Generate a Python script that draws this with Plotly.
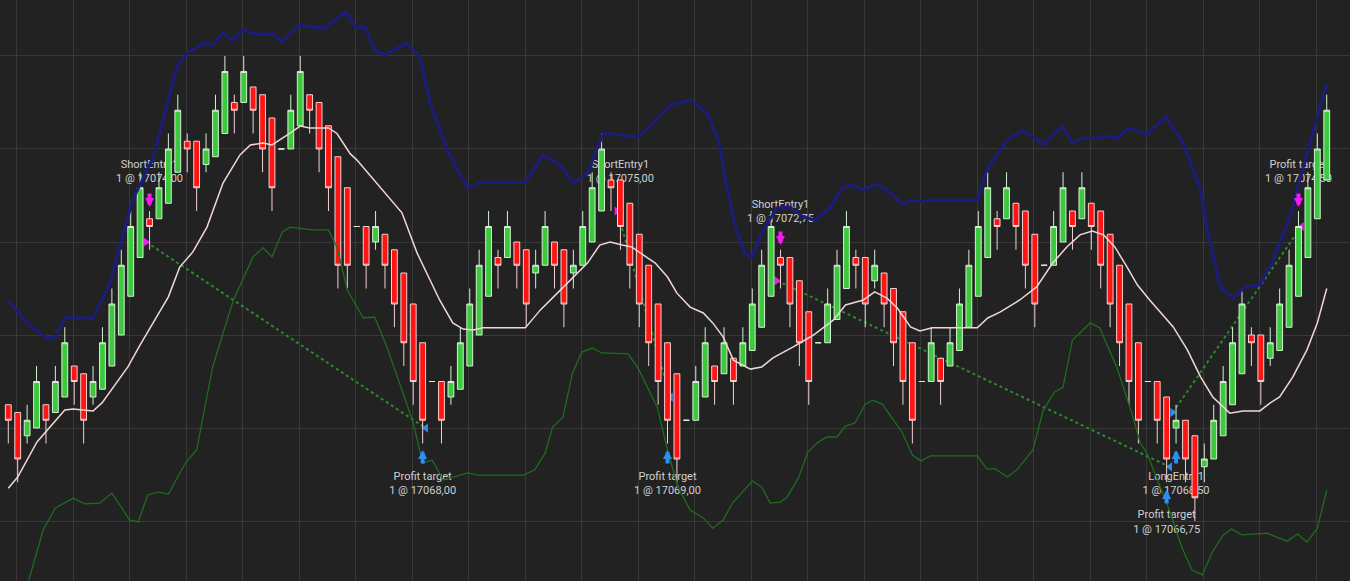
import plotly.graph_objects as go

# ---- price bars (one per bar index) ----
opens = [
    17068.75, 17068.5, 17067.75, 17068.0, 17068.75, 17068.5, 17069.0, 17070.0, 17069.75, 17069.0,
    17069.25, 17070.0, 17071.0, 17072.25, 17073.5, 17074.75, 17074.75, 17075.25, 17076.25, 17077.25,
    17077.25, 17076.5, 17076.75, 17077.5, 17078.5, 17078.5, 17079.0, 17078.75, 17078.0, 17077.0,
    17077.0, 17077.75, 17078.75, 17078.5, 17077.75, 17076.75, 17075.75, 17074.5, 17074.5, 17074.0,
    17074.25, 17073.75, 17073.0, 17072.0, 17070.75, 17069.5, 17069.5, 17069.0, 17069.25, 17070.0,
    17071.0, 17072.25, 17073.5, 17073.5, 17074.0, 17073.75, 17073.0, 17073.25, 17074.0, 17073.75,
    17073.0, 17073.25, 17074.0, 17075.0, 17076.0, 17076.0, 17075.25, 17074.25, 17073.25, 17072.0,
    17070.75, 17069.75, 17068.25, 17068.25, 17069.0, 17070.0, 17069.75, 17070.25, 17070.0, 17070.5,
    17071.25, 17072.25, 17073.5, 17073.5, 17072.75, 17071.75, 17070.75, 17070.75, 17071.5, 17072.5,
    17073.5, 17073.5, 17072.75, 17073.0, 17072.5, 17071.75, 17070.75, 17069.5, 17069.5, 17070.25,
    17070.0, 17070.5, 17071.25, 17072.25, 17073.5, 17074.75, 17074.75, 17075.25, 17075.0, 17074.25,
    17073.25, 17073.25, 17074.0, 17075.0, 17074.75, 17075.25, 17075.0, 17074.25, 17073.25, 17072.0,
    17070.75, 17069.5, 17069.5, 17069.0, 17068.0, 17068.25, 17067.75, 17066.75, 17067.0, 17067.75,
    17068.75, 17069.75, 17071.0, 17071.0, 17070.25, 17070.5, 17071.25, 17072.25, 17073.5, 17074.75,
    17076.0,
]
highs = [
    17068.75, 17068.5, 17068.75, 17070.0, 17068.75, 17070.0, 17071.25, 17070.0, 17069.75, 17070.0,
    17071.25, 17072.5, 17073.75, 17075.0, 17076.25, 17075.0, 17076.25, 17077.5, 17078.75, 17077.5,
    17077.25, 17077.5, 17078.75, 17080.0, 17078.75, 17080.0, 17079.0, 17078.75, 17078.0, 17077.0,
    17078.75, 17080.0, 17078.75, 17078.5, 17077.75, 17076.75, 17075.75, 17074.5, 17074.5, 17075.0,
    17074.25, 17073.75, 17073.0, 17072.0, 17070.75, 17069.5, 17069.5, 17070.0, 17071.25, 17072.5,
    17073.75, 17075.0, 17073.75, 17075.0, 17074.0, 17073.75, 17073.75, 17075.0, 17074.0, 17073.75,
    17073.75, 17075.0, 17076.25, 17077.5, 17076.25, 17076.0, 17075.25, 17074.25, 17073.25, 17072.0,
    17070.75, 17069.75, 17068.25, 17070.0, 17071.25, 17070.0, 17071.25, 17070.25, 17071.25, 17072.5,
    17073.75, 17075.0, 17073.75, 17073.5, 17072.75, 17071.75, 17070.75, 17072.5, 17073.75, 17075.0,
    17073.75, 17073.5, 17073.75, 17073.0, 17072.5, 17071.75, 17070.75, 17069.5, 17071.25, 17070.25,
    17071.25, 17072.5, 17073.75, 17075.0, 17076.25, 17075.0, 17076.25, 17075.25, 17075.0, 17074.25,
    17073.25, 17075.0, 17076.25, 17075.0, 17076.25, 17075.25, 17075.0, 17074.25, 17073.25, 17072.0,
    17070.75, 17069.5, 17069.5, 17069.0, 17068.75, 17068.25, 17067.75, 17067.5, 17068.75, 17070.0,
    17071.25, 17072.5, 17071.25, 17071.0, 17071.25, 17072.5, 17073.75, 17075.0, 17076.25, 17077.5,
    17078.75,
]
lows = [
    17067.5, 17066.25, 17067.5, 17068.0, 17067.5, 17068.5, 17069.0, 17068.75, 17067.5, 17068.75,
    17069.25, 17070.0, 17071.0, 17072.25, 17073.5, 17073.75, 17074.75, 17075.25, 17076.25, 17076.25,
    17075.0, 17076.25, 17076.75, 17077.5, 17077.5, 17078.5, 17077.5, 17076.25, 17075.0, 17077.0,
    17077.0, 17077.75, 17077.5, 17076.25, 17075.0, 17072.5, 17072.5, 17074.5, 17072.5, 17073.75,
    17072.5, 17071.25, 17070.0, 17068.75, 17067.5, 17069.5, 17067.5, 17068.75, 17069.25, 17070.0,
    17071.0, 17072.25, 17072.5, 17073.5, 17072.5, 17071.25, 17072.5, 17073.25, 17072.5, 17071.25,
    17072.5, 17073.25, 17074.0, 17075.0, 17075.0, 17073.75, 17072.5, 17071.25, 17070.0, 17068.75,
    17067.5, 17066.25, 17068.25, 17068.25, 17069.0, 17068.75, 17069.75, 17068.75, 17070.0, 17070.5,
    17071.25, 17072.25, 17072.5, 17071.25, 17070.0, 17068.75, 17070.75, 17070.75, 17071.5, 17072.5,
    17072.5, 17071.25, 17072.5, 17071.25, 17070.0, 17068.75, 17067.5, 17069.5, 17069.5, 17068.75,
    17070.0, 17070.5, 17071.25, 17072.25, 17073.5, 17073.75, 17074.75, 17073.75, 17072.5, 17071.25,
    17073.25, 17073.25, 17074.0, 17073.75, 17074.75, 17073.75, 17072.5, 17071.25, 17070.0, 17068.75,
    17067.5, 17069.5, 17067.5, 17066.25, 17067.5, 17066.25, 17065.0, 17066.25, 17067.0, 17067.75,
    17068.75, 17069.75, 17070.0, 17068.75, 17070.0, 17070.5, 17071.25, 17072.25, 17073.5, 17074.75,
    17076.0,
]
closes = [
    17068.25, 17067.0, 17068.25, 17069.5, 17068.25, 17069.5, 17070.75, 17069.5, 17068.25, 17069.5,
    17070.75, 17072.0, 17073.25, 17074.5, 17075.75, 17074.5, 17075.75, 17077.0, 17078.25, 17077.0,
    17075.75, 17077.0, 17078.25, 17079.5, 17078.25, 17079.5, 17078.25, 17077.0, 17075.75, 17077.0,
    17078.25, 17079.5, 17078.25, 17077.0, 17075.75, 17073.25, 17073.25, 17074.5, 17073.25, 17074.5,
    17073.25, 17072.0, 17070.75, 17069.5, 17068.25, 17069.5, 17068.25, 17069.5, 17070.75, 17072.0,
    17073.25, 17074.5, 17073.25, 17074.5, 17073.25, 17072.0, 17073.25, 17074.5, 17073.25, 17072.0,
    17073.25, 17074.5, 17075.75, 17077.0, 17075.75, 17074.5, 17073.25, 17072.0, 17070.75, 17069.5,
    17068.25, 17067.0, 17068.25, 17069.5, 17070.75, 17069.5, 17070.75, 17069.5, 17070.75, 17072.0,
    17073.25, 17074.5, 17073.25, 17072.0, 17070.75, 17069.5, 17070.75, 17072.0, 17073.25, 17074.5,
    17073.25, 17072.0, 17073.25, 17072.0, 17070.75, 17069.5, 17068.25, 17069.5, 17070.75, 17069.5,
    17070.75, 17072.0, 17073.25, 17074.5, 17075.75, 17074.5, 17075.75, 17074.5, 17073.25, 17072.0,
    17073.25, 17074.5, 17075.75, 17074.5, 17075.75, 17074.5, 17073.25, 17072.0, 17070.75, 17069.5,
    17068.25, 17069.5, 17068.25, 17067.0, 17068.25, 17067.0, 17065.75, 17067.0, 17068.25, 17069.5,
    17070.75, 17072.0, 17070.75, 17069.5, 17070.75, 17072.0, 17073.25, 17074.5, 17075.75, 17077.0,
    17078.25,
]
bar_index = list(range(len(closes)))

# ---- indicator plots (bar index, price) ----
upper_x = [0, 2.0, 4.1, 5.0, 6.0, 9.0, 10.8, 13.2, 15.4, 17.9, 19.0, 20.9, 21.7, 22.8, 23.8, 24.9,
           26.4, 28.0, 29.1, 30.8, 32.0, 33.6, 35.8, 37.0, 37.9, 38.9, 40.0, 42.3, 43.7, 44.8, 46.6,
           48.8, 50.1, 54.9, 56.8, 58.6, 60.0, 61.5, 63.2, 65.3, 66.8, 68.1, 70.3, 72.4, 74.2, 75.4,
           76.3, 77.2, 78.2, 79.0, 80.0, 81.6, 83.0, 84.4, 85.7, 87.3, 88.6, 89.7, 90.8, 92.3, 93.6,
           94.9, 95.8, 97.9, 102.9, 103.9, 105.3, 106.4, 107.8, 108.8, 109.9, 111.9, 113.0, 114.0,
           115.6, 116.7, 117.8, 118.9, 120.9, 122.9, 124.7, 126.6, 127.4, 128.7, 130.1, 131.3, 132.9,
           134.3, 136.1, 138.2, 140.0]
upper_y = [17072.1, 17071.39, 17070.9, 17070.94, 17071.55, 17071.55, 17072.68, 17075.35, 17076.74,
           17079.64, 17080.1, 17080.42, 17080.35, 17080.74, 17080.48, 17080.84, 17080.71, 17080.71,
           17080.45, 17081.0, 17080.94, 17080.9, 17081.42, 17080.9, 17080.94, 17080.19, 17080.03,
           17080.42, 17079.97, 17078.48, 17076.97, 17075.74, 17075.93, 17075.93, 17076.81, 17076.48,
           17075.9, 17076.22, 17077.52, 17077.45, 17077.39, 17077.71, 17078.42, 17078.58, 17078.16,
           17077.29, 17075.77, 17074.48, 17073.64, 17073.52, 17074.29, 17075.1, 17075.13, 17074.81,
           17074.71, 17075.13, 17075.77, 17075.84, 17075.68, 17075.87, 17075.61, 17075.23, 17075.32,
           17075.35, 17075.35, 17076.32, 17076.97, 17077.39, 17077.58, 17077.39, 17077.13, 17077.74,
           17077.19, 17077.35, 17077.35, 17077.42, 17077.35, 17077.68, 17077.48, 17078.03, 17077.23,
           17075.68, 17074.29, 17072.55, 17072.19, 17072.55, 17072.61, 17073.42, 17074.81, 17077.19,
           17079.1]

mid_x = [0, 1.0, 3.05, 4.2, 6.0, 6.9, 9.0, 9.95, 11.3, 12.7, 14.0, 15.4, 17.0, 18.2, 19.6, 21.1,
         22.8, 24.6, 25.7, 27.05, 28.0, 29.6, 31.0, 32.0, 34.0, 34.9, 36.3, 37.0, 39.5, 41.8, 43.4,
         45.1, 45.8, 47.2, 48.3, 49.35, 50.4, 54.9, 56.5, 58.3, 60.0, 61.5, 62.8, 63.9, 65.2, 66.2,
         67.1, 68.7, 70.0, 71.0, 72.4, 73.8, 74.8, 75.9, 77.0, 78.8, 80.0, 81.2, 83.3, 85.5, 87.6,
         88.9, 90.8, 92.0, 93.3, 94.4, 95.8, 96.8, 98.1, 102.9, 104.0, 105.3, 107.4, 109.2, 110.9,
         112.4, 113.8, 115.1, 116.3, 117.5, 118.8, 119.9, 121.2, 123.7, 125.2, 126.6, 127.9, 129.7,
         131.1, 132.9, 134.0, 135.0, 136.4, 137.9, 139.0, 140.0]
mid_y = [17066.06, 17066.42, 17067.55, 17067.94, 17068.58, 17068.61, 17068.55, 17068.81, 17069.39,
         17069.97, 17070.68, 17071.42, 17072.23, 17073.19, 17073.68, 17074.48, 17075.9, 17076.81,
         17077.13, 17077.19, 17077.13, 17077.45, 17077.74, 17077.68, 17077.68, 17077.5, 17076.85,
         17076.65, 17075.77, 17074.94, 17073.65, 17072.55, 17072.13, 17071.39, 17071.19, 17071.16,
         17071.23, 17071.23, 17071.81, 17072.35, 17072.87, 17073.32, 17073.9, 17074.0, 17073.9,
         17073.84, 17073.65, 17073.32, 17072.87, 17072.35, 17071.9, 17071.71, 17071.39, 17070.94,
         17070.19, 17069.9, 17069.97, 17070.26, 17070.61, 17071.0, 17071.48, 17071.97, 17072.13,
         17072.39, 17072.19, 17071.87, 17071.26, 17071.13, 17071.23, 17071.23, 17071.55, 17071.74,
         17072.13, 17072.55, 17073.32, 17073.84, 17074.23, 17074.35, 17074.23, 17073.84, 17073.19,
         17072.61, 17072.13, 17071.26, 17070.52, 17069.65, 17069.0, 17068.48, 17068.55, 17068.55,
         17068.81, 17069.0, 17069.65, 17070.52, 17071.39, 17072.5]

lower_x = [2.0, 3.7, 5.0, 6.9, 8.1, 9.7, 11.0, 12.9, 13.8, 14.8, 15.9, 17.0, 18.8, 20.0, 21.7, 23.9,
           26.0, 27.05, 28.0, 29.1, 29.9, 32.3, 34.0, 34.9, 36.0, 37.7, 38.9, 40.2, 41.8, 43.0, 44.0,
           45.0, 46.2, 47.4, 48.8, 49.9, 54.7, 55.9, 57.0, 57.8, 58.9, 59.9, 60.9, 62.0, 63.0, 65.8,
           66.8, 68.9, 70.0, 71.1, 72.4, 73.8, 74.8, 75.9, 76.9, 79.0, 80.0, 80.9, 82.0, 82.7, 83.9,
           84.9, 85.9, 86.9, 88.0, 88.9, 89.9, 91.0, 91.8, 92.8, 93.8, 94.9, 96.0, 96.9, 97.9, 102.9,
           103.9, 104.8, 106.1, 107.1, 108.8, 109.9, 111.1, 112.0, 113.0, 114.9, 115.9, 117.7, 119.3,
           120.2, 120.9, 122.3, 123.4, 124.6, 125.7, 126.8, 127.8, 129.0, 129.9, 131.0, 133.7, 134.7,
           135.8, 136.9, 137.9, 139.0, 140.0]
lower_y = [17062.9, 17064.71, 17065.42, 17065.74, 17065.55, 17065.58, 17065.9, 17065.03, 17064.97,
           17065.84, 17065.94, 17065.87, 17066.87, 17067.29, 17069.97, 17072.13, 17073.52, 17073.81,
           17073.52, 17074.32, 17074.48, 17074.39, 17074.39, 17073.84, 17072.45, 17071.55, 17071.58,
           17070.61, 17069.23, 17068.16, 17066.87, 17066.97, 17066.32, 17066.42, 17066.55, 17066.48,
           17066.48, 17066.65, 17067.19, 17068.03, 17068.35, 17069.77, 17070.45, 17070.58, 17070.42,
           17070.39, 17069.97, 17068.68, 17067.29, 17066.1, 17065.35, 17065.1, 17064.77, 17065.03,
           17065.58, 17066.29, 17066.1, 17065.58, 17065.61, 17065.77, 17066.39, 17067.23, 17067.52,
           17067.71, 17067.71, 17068.06, 17068.16, 17068.77, 17068.9, 17068.77, 17068.35, 17067.87,
           17067.13, 17066.94, 17067.1, 17067.1, 17066.68, 17066.68, 17066.42, 17066.65, 17067.29,
           17068.58, 17069.16, 17069.32, 17070.84, 17071.39, 17071.23, 17069.97, 17068.48, 17067.52,
           17067.19, 17066.1, 17065.26, 17064.16, 17063.42, 17063.26, 17063.97, 17064.55, 17064.74,
           17064.55, 17064.61, 17064.48, 17064.35, 17064.58, 17064.32, 17064.77, 17066.0]

# ---- executions ----
entry_bars = [15, 65, 82, 124]
entry_prices = [17074.00, 17075.00, 17072.75, 17068.50]
entry_names = ["ShortEntry1", "ShortEntry1", "ShortEntry1", "LongEntry1"]
exit_bars = [44, 70, 123, 137]
exit_prices = [17068.00, 17069.00, 17066.75, 17074.50]
exit_names = ["Profit target", "Profit target", "Profit target", "Profit target"]
trade_sides = ["short", "short", "short", "long"]

BG = "#222222"
GRID = "#383838"
BUY = "#2b8ef0"
SELL = "#f01ef0"
TEXT = "#d0d0d0"
X_RANGE = [-0.88, 142.47]
Y_RANGE = [17063.065, 17081.806]

# label anchors (price units) and arrow tips for each execution
entry_label_y = [17076.24, 17076.24, 17074.97, 17066.19]
exit_label_y = [17066.19, 17066.19, 17064.94, 17076.24]
entry_arrow_tip = [17075.13, None, 17073.90, 17067.29]
exit_arrow_tip = [17067.29, 17067.29, 17066.00, 17075.13]


def fmt(p):
    return f"{p:.2f}".replace(".", ",")


fig = go.Figure()

# base layer: trade connectors, execution markers and labels (beneath the bars)
for eb, ep, xb, xp in zip(entry_bars, entry_prices, exit_bars, exit_prices):
    fig.add_trace(go.Scatter(
        x=[eb - 0.35, xb + 0.3], y=[ep, xp], mode="lines",
        line=dict(color="#2b8a2b", width=2, dash="dot"),
        hoverinfo="skip", showlegend=False))

for eb, ep, side in zip(entry_bars, entry_prices, trade_sides):
    fig.add_trace(go.Scatter(
        x=[eb - 0.4], y=[ep], mode="markers",
        marker=dict(symbol="triangle-right", size=8,
                    color=SELL if side == "short" else BUY),
        hoverinfo="skip", showlegend=False))
for xb, xp, side in zip(exit_bars, exit_prices, trade_sides):
    fig.add_trace(go.Scatter(
        x=[xb + 0.35], y=[xp], mode="markers",
        marker=dict(symbol="triangle-left", size=8,
                    color=BUY if side == "short" else SELL),
        hoverinfo="skip", showlegend=False))

label_x = entry_bars + exit_bars
label_y = entry_label_y + exit_label_y
label_text = [f"{n}<br>1 @ {fmt(p)}" for n, p in zip(entry_names, entry_prices)] + \
             [f"{n}<br>1 @ {fmt(p)}" for n, p in zip(exit_names, exit_prices)]
fig.add_trace(go.Scatter(
    x=label_x, y=label_y, mode="text", text=label_text,
    textposition="middle center",
    textfont=dict(family="Roboto, 'Noto Sans', sans-serif", size=11, color=TEXT),
    hoverinfo="skip", showlegend=False))

# price bars on the second layer
fig.add_trace(go.Candlestick(
    x=bar_index, open=opens, high=highs, low=lows, close=closes,
    increasing=dict(fillcolor="#3dc93d", line=dict(color="#d4f0d4", width=1)),
    decreasing=dict(fillcolor="#ff1414", line=dict(color="#f6d0d0", width=1)),
    whiskerwidth=0, xaxis="x2", yaxis="y2", hoverinfo="skip", showlegend=False))

# indicator plots on top
fig.add_trace(go.Scatter(x=lower_x, y=lower_y, mode="lines",
                         line=dict(color="#1f6c1f", width=1.3),
                         xaxis="x3", yaxis="y3", hoverinfo="skip", showlegend=False))
fig.add_trace(go.Scatter(x=mid_x, y=mid_y, mode="lines",
                         line=dict(color="#f2d6d6", width=1.5),
                         xaxis="x3", yaxis="y3", hoverinfo="skip", showlegend=False))
fig.add_trace(go.Scatter(x=upper_x, y=upper_y, mode="lines",
                         line=dict(color="#1c1c7c", width=3),
                         xaxis="x3", yaxis="y3", hoverinfo="skip", showlegend=False))

# execution arrows
arrows = []
for eb, tip, side in zip(entry_bars, entry_arrow_tip, trade_sides):
    if tip is None:
        continue
    down = side == "short"
    arrows.append((eb, tip, SELL if down else BUY, -15 if down else 15))
for xb, tip, side in zip(exit_bars, exit_arrow_tip, trade_sides):
    down = side == "long"
    arrows.append((xb, tip, SELL if down else BUY, -15 if down else 15))
for bx, tip, col, ay in arrows:
    fig.add_annotation(x=bx, y=tip, xref="x", yref="y", text="", showarrow=True,
                       arrowhead=2, arrowsize=0.45, arrowwidth=4, arrowcolor=col,
                       ax=0, ay=ay, standoff=0)

hidden = dict(range=X_RANGE, visible=False, fixedrange=True)
fig.update_layout(
    width=1350, height=581,
    margin=dict(l=0, r=0, t=0, b=0),
    paper_bgcolor=BG, plot_bgcolor=BG,
    showlegend=False, hovermode=False,
    boxgap=0.12,
    xaxis=dict(range=X_RANGE, tick0=0.89, dtick=6, showgrid=True, gridcolor=GRID,
               gridwidth=1, zeroline=False, showticklabels=False, ticks="",
               showline=False, fixedrange=True),
    yaxis=dict(range=Y_RANGE, tick0=17065, dtick=3, showgrid=True, gridcolor=GRID,
               gridwidth=1, zeroline=False, showticklabels=False, ticks="",
               showline=False, fixedrange=True),
    xaxis2=dict(overlaying="x", rangeslider=dict(visible=False), **hidden),
    yaxis2=dict(overlaying="y", range=Y_RANGE, visible=False, fixedrange=True),
    xaxis3=dict(overlaying="x", **hidden),
    yaxis3=dict(overlaying="y", range=Y_RANGE, visible=False, fixedrange=True),
)

fig.write_html("out.html")
